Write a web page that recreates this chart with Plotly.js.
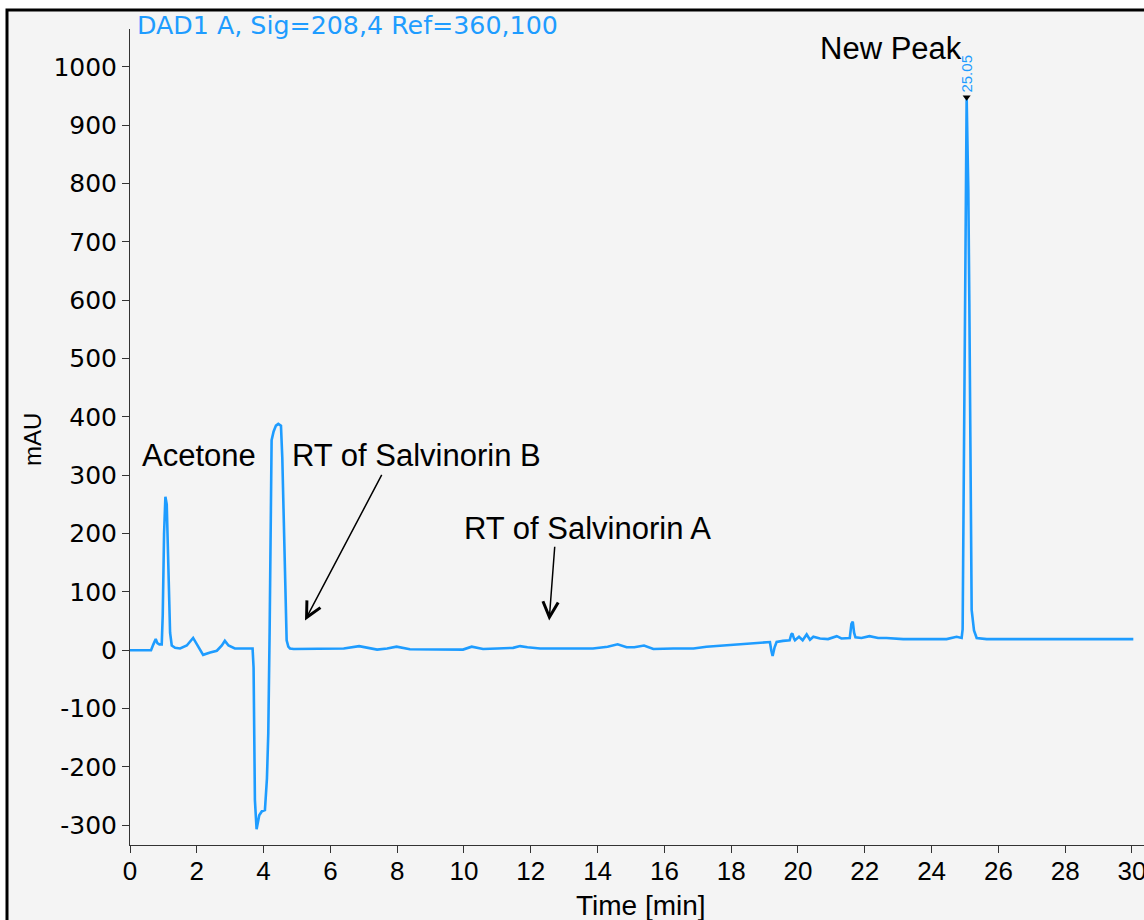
<!DOCTYPE html>
<html>
<head>
<meta charset="utf-8">
<script src="https://cdn.plot.ly/plotly-3.0.1.min.js"></script>
<style>html,body{margin:0;padding:0;background:#fff;}#chart{width:1144px;height:920px;}</style>
</head>
<body>
<div id="chart"></div>
<script>
// Retention time (min) and detector signal (mAU)
var timeMin = [0, 0.63, 0.7, 0.77, 0.82, 0.88, 0.95, 0.98, 1.02, 1.06, 1.1, 1.14, 1.2, 1.25, 1.35, 1.5, 1.7, 1.89, 2.0, 2.19, 2.4, 2.6, 2.75, 2.84, 2.95, 3.14, 3.4, 3.67,
  3.7, 3.74, 3.79, 3.87, 3.95, 4.04, 4.1, 4.14, 4.18, 4.24, 4.3, 4.37, 4.44, 4.52, 4.56, 4.59, 4.64, 4.69, 4.74, 4.79, 4.9,
  5.2, 5.8, 6.4, 6.86, 7.1, 7.4, 7.7, 7.98, 8.38, 9.0, 9.97, 10.23, 10.57, 11.0, 11.47, 11.68, 11.9, 12.28, 13.0, 13.86, 14.3, 14.6, 14.87, 15.1, 15.39, 15.67, 16.27, 16.87, 17.26, 17.86,
  18.26, 18.66, 19.1, 19.16, 19.2, 19.24, 19.3, 19.36, 19.55, 19.75, 19.8, 19.83, 19.88, 19.91, 20.03, 20.14, 20.26, 20.36, 20.46, 20.66, 20.9, 21.16, 21.3, 21.55, 21.6, 21.64, 21.68, 21.72, 21.9,
  22.14, 22.4, 22.65, 23.15, 24.45, 24.75, 24.9, 24.93, 24.96, 25.0, 25.03, 25.05, 25.08, 25.1, 25.13, 25.16, 25.2, 25.27, 25.35, 25.65, 30.04];
var signalMAU = [0, 0, 10, 19, 12, 10, 10, 60, 200, 263, 250, 150, 30, 8, 4, 3, 8, 21, 10, -8, -4, -1, 8, 16, 8, 3, 3, 3,
  -30, -257, -307, -283, -276, -274, -220, -143, 30, 360, 375, 385, 388, 385, 330, 257, 120, 17, 6, 3, 2,
  2, 2, 3, 7, 4, 1, 3, 6, 1.5, 1, 1, 6, 2, 3, 4, 7, 5, 3, 3, 3, 6, 10, 5, 5, 8, 2, 3, 3, 6, 8.6,
  10, 11.4, 13, 14, 0, -10, 5, 14, 16, 17, 27, 29, 20, 17, 23, 17, 27, 18, 23, 20, 19, 24, 20, 21, 45, 49, 30, 22, 21,
  24, 21, 21, 19, 19, 23, 21, 36, 300, 700, 900, 948, 850, 790, 600, 300, 69, 34, 21, 19, 19];

var peakTime = [25.05];
var peakHeight = [948];
var peakLabel = ['25.05'];

var xTicks = [0, 2, 4, 6, 8, 10, 12, 14, 16, 18, 20, 22, 24, 26, 28, 30];
var yTicks = [-300, -200, -100, 0, 100, 200, 300, 400, 500, 600, 700, 800, 900, 1000];

var signalTitle = 'DAD1 A, Sig=208,4 Ref=360,100';
var labels = {
  acetone: {text: 'Acetone', x: 0.3, y: 333},
  salB: {text: 'RT of Salvinorin B', x: 4.79, y: 333},
  salA: {text: 'RT of Salvinorin A', x: 9.94, y: 209},
  newPeak: {text: 'New Peak', x: 20.6, y: 1031}
};
var arrowB = {x: 5.24, y: 51, ax: 7.56, ay: 303};
var arrowA = {x: 12.55, y: 51, ax: 12.72, ay: 180};

var blue = '#1E9CFF';
var annFont = {family: 'Liberation Sans, Arial, sans-serif', size: 31, color: '#000'};

var traces = [
  {x: timeMin, y: signalMAU, type: 'scatter', mode: 'lines',
   line: {color: blue, width: 2.6, shape: 'linear'}, hoverinfo: 'skip'},
  {x: peakTime, y: peakHeight, type: 'scatter', mode: 'markers',
   marker: {symbol: 'triangle-down', size: 7, color: '#000'}, hoverinfo: 'skip'}
];

function txt(o) {
  return {x: o.x, y: o.y, xref: 'x', yref: 'y', text: o.text, showarrow: false,
          xanchor: 'left', yanchor: 'middle', font: annFont};
}
function arr(o) {
  return {x: o.x, y: o.y, ax: o.ax, ay: o.ay, xref: 'x', yref: 'y', axref: 'x', ayref: 'y',
          text: '', showarrow: true, arrowhead: 5, arrowsize: 2, arrowwidth: 1.5,
          arrowcolor: '#000', standoff: 0, startstandoff: 0};
}

var layout = {
  width: 1144, height: 920,
  margin: {l: 130, r: 0, t: 29, b: 75, pad: 0},
  paper_bgcolor: '#ffffff',
  plot_bgcolor: 'rgba(0,0,0,0)',
  showlegend: false,
  xaxis: {
    range: [0, 30.36], tickvals: xTicks, ticktext: xTicks.map(String),
    ticks: 'outside', ticklen: 7, tickwidth: 1, tickcolor: '#333',
    showline: true, linecolor: '#333', linewidth: 1, showgrid: false, zeroline: false,
    ticklabeloverflow: 'allow', ticklabelstandoff: -4,
    tickfont: {family: 'Liberation Sans, Arial, sans-serif', size: 26, color: '#000'}
  },
  yaxis: {
    range: [-334, 1065], tickvals: yTicks, ticktext: yTicks.map(String),
    ticks: 'outside', ticklen: 7, tickwidth: 1, tickcolor: '#333',
    showline: true, linecolor: '#333', linewidth: 1, showgrid: false, zeroline: false,
    tickfont: {family: 'DejaVu Sans, Verdana, sans-serif', size: 25, color: '#000'}
  },
  shapes: [
    {type: 'rect', xref: 'paper', yref: 'paper', x0: -0.1213, x1: 1.006, y0: -0.104, y1: 1.0233,
     fillcolor: '#f4f4f4', line: {color: '#000', width: 3}, layer: 'below'}
  ],
  annotations: [
    {xref: 'paper', yref: 'paper', x: 0, y: 1, xshift: 5, yshift: 4, xanchor: 'left', yanchor: 'middle',
     text: signalTitle, showarrow: false,
     font: {family: 'DejaVu Sans, Verdana, sans-serif', size: 25.3, color: blue}},
    {xref: 'paper', yref: 'paper', x: 0.504, y: 0, yshift: -60, xanchor: 'center', yanchor: 'middle',
     text: 'Time [min]', showarrow: false,
     font: {family: 'Liberation Sans, Arial, sans-serif', size: 28, color: '#000'}},
    {xref: 'paper', yref: 'paper', x: 0, y: 0.4963, xshift: -98, xanchor: 'center', yanchor: 'middle',
     text: 'mAU', textangle: -90, showarrow: false,
     font: {family: 'Liberation Sans, Arial, sans-serif', size: 24, color: '#000'}},
    {xref: 'x', yref: 'y', x: peakTime[0], y: 988, xanchor: 'center', yanchor: 'middle',
     text: peakLabel[0], textangle: -90, showarrow: false,
     font: {family: 'Liberation Sans, Arial, sans-serif', size: 15, color: blue}},
    txt(labels.acetone), txt(labels.salB), txt(labels.salA), txt(labels.newPeak),
    arr(arrowB), arr(arrowA)
  ]
};

Plotly.newPlot('chart', traces, layout, {displayModeBar: false, staticPlot: true});
</script>
</body>
</html>
